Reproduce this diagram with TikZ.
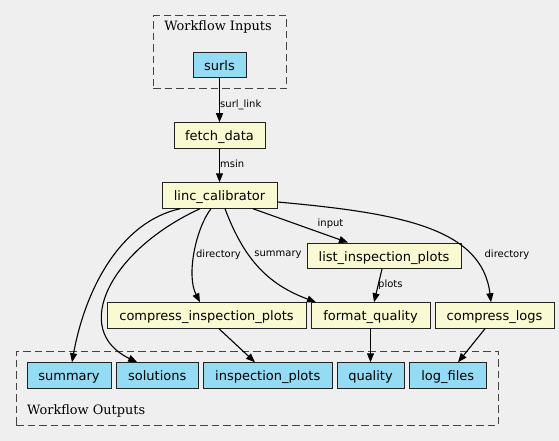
\documentclass[tikz,border=0pt]{standalone}
\usepackage{fontspec}
\setmainfont{DejaVu Sans}
\newfontfamily\serifttl{DejaVu Serif}
\usetikzlibrary{arrows.meta,calc}
\definecolor{bg}{HTML}{EFEFEF}
\definecolor{yel}{HTML}{FAFAD2}
\definecolor{blu}{HTML}{94DCF4}
\definecolor{bord}{HTML}{222222}
\begin{document}
\begin{tikzpicture}[x=1pt,y=-1pt,
  box/.style={draw=bord, line width=1pt, inner sep=0pt, font=\fontsize{13}{15}\selectfont, text height=10.4pt, text depth=0pt, minimum height=25.5pt},
  proc/.style={box, fill=yel},
  port/.style={box, fill=blu},
  cluster/.style={draw=bord!85, line width=1pt, dash pattern=on 7.5pt off 4pt, inner sep=0pt},
  ctitle/.style={font=\serifttl\fontsize{12.9}{14}\selectfont, inner sep=0pt},
  conn/.style={-{Triangle[length=9pt,width=7pt]}, line width=1.1pt, black},
  elabel/.style={font=\fontsize{10}{12}\selectfont, inner sep=0pt}
]
\fill[bg] (0,0) rectangle (559,441);
\useasboundingbox (0,0) rectangle (559,441);

% clusters
\node[cluster, minimum width=133.4pt, minimum height=73pt] (inputs) at (220,52.5) {};
\node[ctitle] (intitle) at (218,27) {Workflow Inputs};
\node[cluster, minimum width=482pt, minimum height=74pt] (outputs) at (257,388) {};
\node[ctitle, anchor=west] (outtitle) at (27,411) {Workflow Outputs};

% nodes
\node[port, minimum width=53pt] (surls) at (219.5,65) {surls};
\node[proc, minimum width=91pt] (fetch) at (219.5,135.5) {fetch\_data};
\node[proc, minimum width=115pt] (linc) at (219.5,195.5) {linc\_calibrator};
\node[proc, minimum width=154pt] (list) at (384,255.8) {list\_inspection\_plots};
\node[proc, minimum width=199pt] (cip) at (206.5,315.5) {compress\_inspection\_plots};
\node[proc, minimum width=119pt] (fq) at (370.5,315.5) {format\_quality};
\node[proc, minimum width=119pt] (cl) at (494.5,315.5) {compress\_logs};
\node[port, minimum width=84pt] (osum) at (69,375.5) {summary};
\node[port, minimum width=82pt] (osol) at (157.2,375.5) {solutions};
\node[port, minimum width=128.7pt] (oip) at (267.7,375.5) {inspection\_plots};
\node[port, minimum width=67pt] (oq) at (370.5,375.5) {quality};
\node[port, minimum width=76.7pt] (olf) at (447.7,375.5) {log\_files};

% connectors
\draw[conn] (surls) -- (fetch);
\draw[conn] (fetch) -- (linc);
\draw[conn] ([xshift=-39.5pt]linc.south) .. controls (120,222) and (85,290) .. ([xshift=3pt]osum.north);
\draw[conn] ([xshift=-19.5pt]linc.south) .. controls (110,250) and (70,330) .. ([xshift=-20pt]osol.north);
\draw[conn] ([xshift=-8.5pt]linc.south) .. controls (196,228) and (186,275) .. ([xshift=-6.5pt]cip.north);
\draw[conn] ([xshift=5.5pt]linc.south) .. controls (245,262) and (270,285) .. ([xshift=-54.5pt]fq.north);
\draw[conn] ([xshift=33.5pt]linc.south) -- ([xshift=-36pt]list.north);
\draw[conn] ([yshift=-6.5pt]linc.east) .. controls (400,213) and (482,228) .. ([xshift=-3.5pt]cl.north);
\draw[conn] ([xshift=-2pt]list.south) -- ([xshift=3.5pt]fq.north);
\draw[conn] ([xshift=12.5pt]cip.south) -- ([xshift=-12.7pt]oip.north);
\draw[conn] (fq) -- (oq);
\draw[conn] ([xshift=-9.5pt]cl.south) -- ([xshift=10.3pt]olf.north);

% edge labels
\node[elabel, anchor=west] (l1) at (220,105) {surl\_link};
\node[elabel, anchor=west] (l2) at (220,164) {msin};
\node[elabel] (l3) at (330.5,224) {input};
\node[elabel] (l4) at (218.5,255) {directory};
\node[elabel] (l5) at (278,255) {summary};
\node[elabel] (l6) at (507,255) {directory};
\node[elabel, anchor=west] (l7) at (378,285) {plots};
\end{tikzpicture}
\end{document}
